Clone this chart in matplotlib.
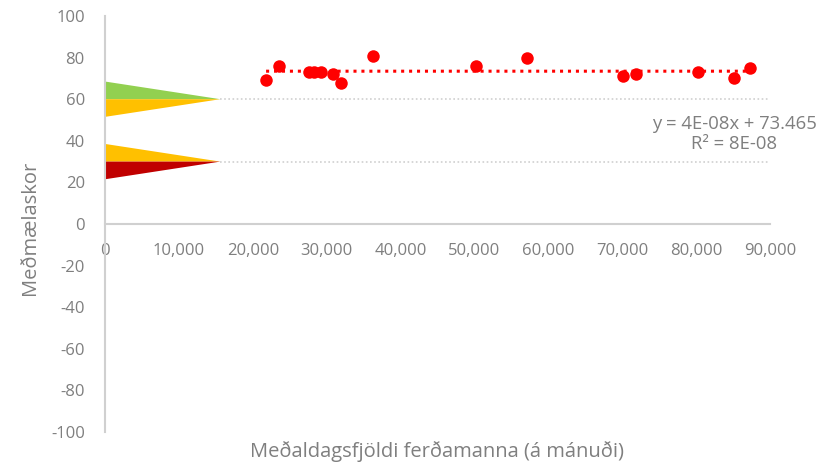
import matplotlib
matplotlib.use("Agg")
import matplotlib.pyplot as plt
import numpy as np

plt.rcParams['font.family'] = ['Open Sans', 'DejaVu Sans']
plt.rcParams['axes.unicode_minus'] = False

# Data
visitors = [21800, 23500, 27600, 28300, 29300, 30800, 31900, 36300,
            50200, 57100, 70100, 71900, 80200, 85100, 87300]
scores = [69, 76, 73, 73, 73, 72, 68, 81, 76, 80, 71, 72, 73, 70, 75]
trend_slope = 4e-08
trend_intercept = 73.465
upper_level = 60
lower_level = 30
band_half = 8.5
tip_x = 15600
xticks = list(range(0, 90001, 10000))
yticks = list(range(-100, 101, 20))
eq_text = "y = 4E-08x + 73.465\nR² = 8E-08"

gray = '#7f7f7f'
fig = plt.figure(figsize=(8.27, 4.66), dpi=100)
ax = fig.add_axes([105/827, 1-432/466, (770-105)/827, (432-16)/466])

ax.set_xlim(0, 90000)
ax.set_ylim(-100, 100)

# triangles
ax.fill([0, 0, tip_x], [upper_level, upper_level + band_half, upper_level], color='#92D050', lw=0)
ax.fill([0, 0, tip_x], [upper_level, upper_level - band_half, upper_level], color='#FFC000', lw=0)
ax.fill([0, 0, tip_x], [lower_level, lower_level + band_half, lower_level], color='#FFC000', lw=0)
ax.fill([0, 0, tip_x], [lower_level, lower_level - band_half, lower_level], color='#C00000', lw=0)

# gray dotted reference lines
ax.plot([tip_x, 90000], [upper_level, upper_level], color='#d0d0d0', lw=1.2, ls=(0, (1, 1.5)))
ax.plot([tip_x, 90000], [lower_level, lower_level], color='#d0d0d0', lw=1.2, ls=(0, (1, 1.5)))

# trendline
tx = np.array([min(visitors), max(visitors)])
ax.plot(tx, trend_slope * tx + trend_intercept, color='#FF0000', lw=2.2, ls=(0, (1, 1.6)), zorder=3)

# points
ax.plot(visitors, scores, 'o', color='#FF0000', ms=9, mec='none', zorder=4)

# spines
for s in ['top', 'right']:
    ax.spines[s].set_visible(False)
ax.spines['bottom'].set_position(('data', 0))
ax.spines['bottom'].set_color('#d0d0d0')
ax.spines['left'].set_color('#d0d0d0')
ax.spines['bottom'].set_linewidth(1.5)
ax.spines['left'].set_linewidth(1.5)

ax.set_xticks(xticks)
ax.set_xticklabels([f"{v:,}" for v in xticks])
ax.set_yticks(yticks)
ax.tick_params(axis='both', length=0, colors=gray, labelsize=12)
ax.tick_params(axis='x', pad=14)
ax.tick_params(axis='y', pad=14.5)

fig.text(30/827, 1-228/466, "Meðmælaskor", rotation=90, ha='center', va='center',
         color=gray, fontsize=14.5)
fig.text(437/827, 1-452/466, "Meðaldagsfjöldi ferðamanna (á mánuði)", ha='center', va='center',
         color=gray, fontsize=14.5)
fig.text(734/827, 1-134/466, eq_text, ha='center', va='center', color=gray, fontsize=13.3,
         multialignment='center', linespacing=1.1)

fig.savefig('out.png', dpi=100)
